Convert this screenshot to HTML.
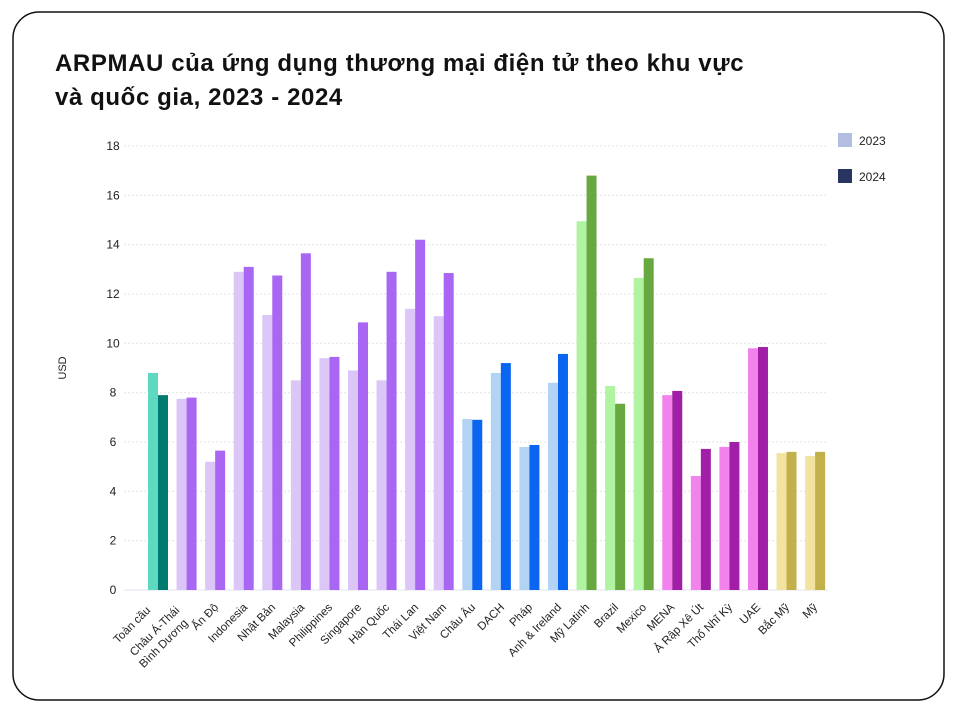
<!DOCTYPE html>
<html><head><meta charset="utf-8"><style>
body{margin:0;background:#fff;}
svg{display:block;font-family:"Liberation Sans",sans-serif;}
</style></head><body>
<svg width="973" height="721" viewBox="0 0 973 721" xmlns="http://www.w3.org/2000/svg">
<rect x="13" y="12" width="931" height="688" rx="26" fill="#fff" stroke="#111" stroke-width="1.5"/>
<text x="55" y="71" font-size="24" letter-spacing="0.6" font-weight="bold" fill="#111">ARPMAU của ứng dụng thương mại điện tử theo khu vực</text>
<text x="55" y="105" font-size="24" letter-spacing="0.6" font-weight="bold" fill="#111">và quốc gia, 2023 - 2024</text>
<g stroke="#e3e3e3" stroke-dasharray="2,2" stroke-width="1">
<line x1="124" x2="828" y1="146" y2="146"/><line x1="124" x2="828" y1="195.3" y2="195.3"/>
<line x1="124" x2="828" y1="244.7" y2="244.7"/><line x1="124" x2="828" y1="294" y2="294"/>
<line x1="124" x2="828" y1="343.3" y2="343.3"/><line x1="124" x2="828" y1="392.7" y2="392.7"/>
<line x1="124" x2="828" y1="442" y2="442"/><line x1="124" x2="828" y1="491.3" y2="491.3"/>
<line x1="124" x2="828" y1="540.7" y2="540.7"/>
</g>
<line x1="124" x2="828" y1="590" y2="590" stroke="#dfe3ee" stroke-width="1"/>
<g font-size="12" fill="#222" text-anchor="middle">
<text x="113" y="150">18</text><text x="113" y="199.3">16</text><text x="113" y="248.7">14</text>
<text x="113" y="298">12</text><text x="113" y="347.3">10</text><text x="113" y="396.7">8</text>
<text x="113" y="446">6</text><text x="113" y="495.3">4</text><text x="113" y="544.7">2</text>
<text x="113" y="594">0</text>
</g>
<text transform="translate(66,368) rotate(-90)" font-size="11" fill="#222" text-anchor="middle">USD</text>
<rect x="838" y="133" width="14" height="14" fill="#b3bde0"/><text x="859" y="145" font-size="12" fill="#222">2023</text>
<rect x="838" y="169" width="14" height="14" fill="#273560"/><text x="859" y="181" font-size="12" fill="#222">2024</text>
<g id="bars"></g>
<g font-size="11.5" fill="#222" text-anchor="end">
<text transform="translate(151,611) rotate(-45)">Toàn cầu</text>
<text transform="translate(180,611) rotate(-45)"><tspan x="0" dy="0">Châu Á-Thái</tspan><tspan x="-3" dy="15">Bình Dương</tspan></text>
<text transform="translate(219,608) rotate(-45)">Ấn Độ</text>
<text transform="translate(248,608) rotate(-45)">Indonesia</text>
<text transform="translate(276,608) rotate(-45)">Nhật Bản</text>
<text transform="translate(305,608) rotate(-45)">Malaysia</text>
<text transform="translate(333,608) rotate(-45)">Philippines</text>
<text transform="translate(362,608) rotate(-45)">Singapore</text>
<text transform="translate(390,608) rotate(-45)">Hàn Quốc</text>
<text transform="translate(419,608) rotate(-45)">Thái Lan</text>
<text transform="translate(447,608) rotate(-45)">Việt Nam</text>
<text transform="translate(476,608) rotate(-45)">Châu Âu</text>
<text transform="translate(505,608) rotate(-45)">DACH</text>
<text transform="translate(533,608) rotate(-45)">Pháp</text>
<text transform="translate(562,608) rotate(-45)">Anh &amp; Ireland</text>
<text transform="translate(590,608) rotate(-45)">Mỹ Latinh</text>
<text transform="translate(619,608) rotate(-45)">Brazil</text>
<text transform="translate(647,608) rotate(-45)">Mexico</text>
<text transform="translate(675,608) rotate(-45)">MENA</text>
<text transform="translate(704,608) rotate(-45)">Ả Rập Xê Út</text>
<text transform="translate(733,608) rotate(-45)">Thổ Nhĩ Kỳ</text>
<text transform="translate(761,608) rotate(-45)">UAE</text>
<text transform="translate(790,608) rotate(-45)">Bắc Mỹ</text>
<text transform="translate(818,608) rotate(-45)">Mỹ</text>
</g>
</svg>
<script>
var d=[[8.8,7.9,0],[7.75,7.8,1],[5.2,5.65,1],[12.9,13.1,1],[11.15,12.75,1],[8.5,13.65,1],[9.4,9.45,1],[8.9,10.85,1],[8.5,12.9,1],[11.4,14.2,1],[11.1,12.85,1],[6.93,6.9,2],[8.8,9.2,2],[5.8,5.88,2],[8.4,9.57,2],[14.95,16.8,3],[8.27,7.55,3],[12.65,13.45,3],[7.9,8.07,4],[4.62,5.72,4],[5.8,6.0,4],[9.8,9.85,4],[5.55,5.6,5],[5.43,5.6,5]];
var c=[["#5fd8c0","#007a6e"],["#dcc6f7","#a866f2"],["#b3d3f5","#0a66f0"],["#b0f3a0","#67a840"],["#f383ec","#a01fa6"],["#f2e4a0","#c2b04a"]];
var s="",k=24.667;
d.forEach(function(r,i){var x=158+28.57*i;
s+='<rect x="'+(x-10)+'" y="'+(590-r[0]*k)+'" width="10" height="'+(r[0]*k)+'" fill="'+c[r[2]][0]+'"/>';
s+='<rect x="'+x+'" y="'+(590-r[1]*k)+'" width="10" height="'+(r[1]*k)+'" fill="'+c[r[2]][1]+'"/>';});
document.getElementById("bars").innerHTML=s;
</script>
</body></html>
